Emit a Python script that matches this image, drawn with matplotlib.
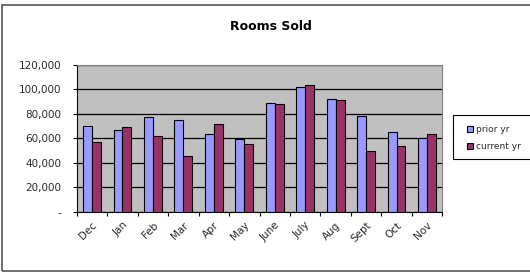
import numpy as np
import matplotlib
matplotlib.use("Agg")
import matplotlib.pyplot as plt
from matplotlib.patches import Rectangle, Patch
from matplotlib.ticker import FuncFormatter

months = ["Dec", "Jan", "Feb", "Mar", "Apr", "May", "June", "July", "Aug", "Sept", "Oct", "Nov"]
prior_yr = [70400, 67100, 77700, 74800, 63800, 59200, 89200, 102300, 92000, 78000, 65000, 60000]
current_yr = [56800, 69600, 62200, 45600, 71500, 55600, 88100, 103400, 91100, 49900, 53800, 63300]
series_names = ["prior yr", "current yr"]

W, H = 530, 274
fig = plt.figure(figsize=(W / 100, H / 100), dpi=100)
plt.rcParams["font.family"] = ["DejaVu Sans"]

# plot area in pixel coords
left, right, top, bottom = 76.7, 442.3, 65, 211.7
ax = fig.add_axes([left / W, 1 - bottom / H, (right - left) / W, (bottom - top) / H])
ax.set_facecolor("#C0C0C0")

x = np.arange(len(months))
bw = 0.29
ax.bar(x - bw / 2, prior_yr, bw, color="#9999FF", edgecolor="black", linewidth=0.8, zorder=3)
ax.bar(x + bw / 2, current_yr, bw, color="#993366", edgecolor="black", linewidth=0.8, zorder=3)

ax.set_xlim(-0.5, len(months) - 0.5)
ax.set_ylim(0, 120000)
ax.set_yticks(np.arange(0, 120001, 20000))
ax.yaxis.set_major_formatter(FuncFormatter(lambda v, p: "-" if v == 0 else f"{int(v):,}"))
ax.grid(axis="y", color="black", linewidth=0.9, zorder=1)

ax.set_xticks(x)
ax.set_xticklabels(months, rotation=45, ha="right", rotation_mode="anchor")
ax.set_xticks(np.arange(-0.5, len(months), 1), minor=True)
ax.tick_params(axis="x", which="major", length=0, pad=6, labelsize=7.5, labelcolor="#2a2a2a")
ax.tick_params(axis="x", which="minor", length=3, width=0.8, direction="out")
ax.tick_params(axis="y", length=3, width=0.8, labelsize=7.5, labelcolor="#2a2a2a", pad=8)

for s in ["top", "right"]:
    ax.spines[s].set_color("#808080")
for s in ["left", "bottom"]:
    ax.spines[s].set_color("black")

fig.text(271 / W, 1 - 26 / H, "Rooms Sold", ha="center", va="center", fontsize=9, fontweight="bold")

# outer chart border (right edge falls outside the image)
fig.add_artist(Rectangle((2 / W, 1 - 271 / H), 600 / W, (271 - 4.5) / H, transform=fig.transFigure,
                         fill=False, edgecolor="#555555", linewidth=1.2))

# legend box, also cut off at the right
fig.add_artist(Rectangle((453 / W, 1 - 159 / H), 120 / W, 44 / H, transform=fig.transFigure,
                         fill=True, facecolor="white", edgecolor="black", linewidth=0.8))
handles = [Patch(facecolor="#9999FF", edgecolor="black", linewidth=0.8),
           Patch(facecolor="#993366", edgecolor="black", linewidth=0.8)]
fig.legend(handles, series_names, loc="center left", bbox_to_anchor=(462 / W, 1 - 138 / H),
           frameon=False, fontsize=6.5, handlelength=0.7, handleheight=0.7, handletextpad=0.3,
           labelspacing=0.9, borderpad=0, labelcolor="#2a2a2a")

fig.savefig("out.png", dpi=100)
